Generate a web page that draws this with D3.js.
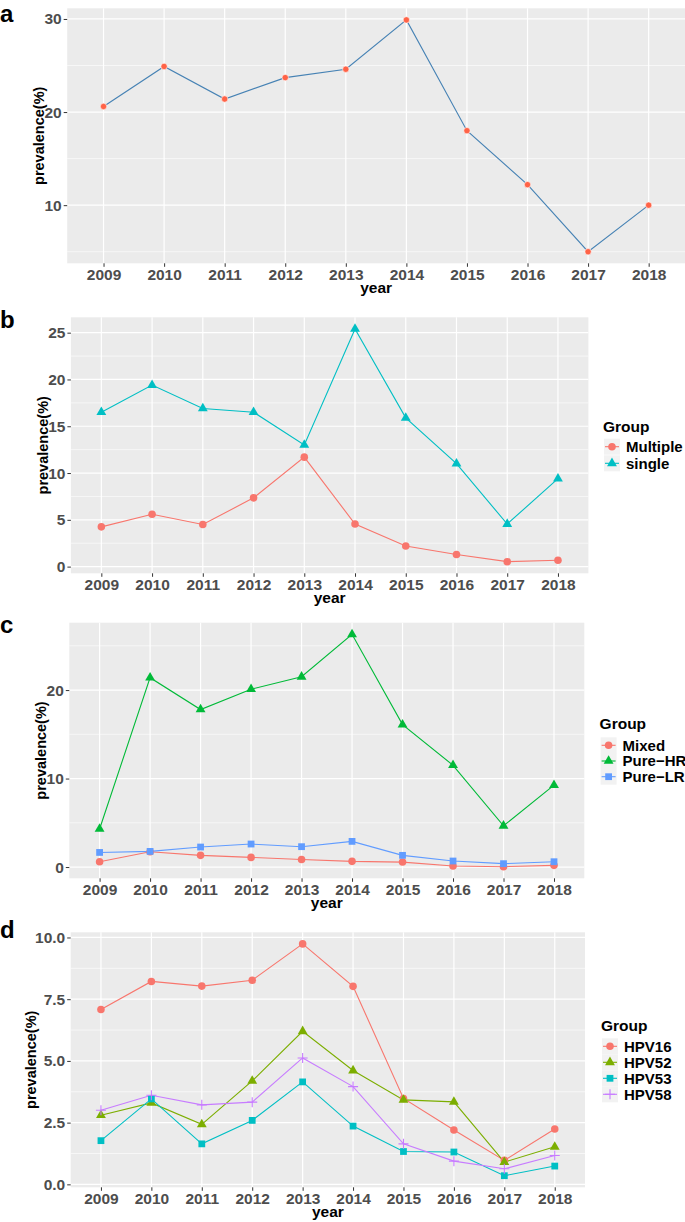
<!DOCTYPE html>
<html>
<head>
<meta charset="utf-8">
<script src="https://cdn.jsdelivr.net/npm/d3@7"></script>
<style>
  body { margin: 0; background: #fff; }
  svg text { font-family: "Liberation Sans", Arial, Helvetica, sans-serif; font-weight: bold; }
</style>
</head>
<body>
<script>
// data
const years = [2009, 2010, 2011, 2012, 2013, 2014, 2015, 2016, 2017, 2018];

const totalPrev = [20.6, 24.9, 21.4, 23.7, 24.6, 29.9, 18.0, 12.2, 5.0, 10.0];

const multiplePrev = [4.25, 5.6, 4.5, 7.35, 11.7, 4.55, 2.2, 1.3, 0.53, 0.68];
const singlePrev = [16.5, 19.4, 16.9, 16.5, 13.0, 25.4, 15.9, 11.0, 4.55, 9.4];

const mixedPrev = [0.6, 1.73, 1.32, 1.09, 0.86, 0.64, 0.56, 0.11, 0.04, 0.19];
const pureHRPrev = [4.3, 21.4, 17.8, 20.1, 21.5, 26.3, 16.1, 11.5, 4.66, 9.25];
const pureLRPrev = [1.65, 1.77, 2.26, 2.6, 2.3, 2.9, 1.32, 0.68, 0.38, 0.6];

const hpv16 = [7.08, 8.22, 8.03, 8.27, 9.74, 8.02, 3.48, 2.2, 0.97, 2.24];
const hpv52 = [2.8, 3.3, 2.43, 4.19, 6.2, 4.61, 3.42, 3.34, 0.9, 1.52];
const hpv53 = [1.77, 3.46, 1.64, 2.59, 4.15, 2.36, 1.33, 1.31, 0.35, 0.74];
const hpv58 = [3.0, 3.61, 3.22, 3.33, 5.12, 3.96, 1.64, 0.94, 0.63, 1.17];

const ticksA = [10, 20, 30];
const ticksB = [0, 5, 10, 15, 20, 25];
const ticksC = [0, 10, 20];
const ticksD = [0, 2.5, 5, 7.5, 10];

const W = 685, H = 1222;
const svg = d3.select("body").append("svg")
    .attr("width", W)
    .attr("height", H);

function plusPath(r) {
    return "M" + (-r) + ",0H" + r + "M0," + (-r) + "V" + r;
}

function drawPanel(opt) {
    const g = svg.append("g");
    const allVals = opt.series.flatMap(s => s.values);
    const lo = d3.min(allVals), hi = d3.max(allVals);
    const pad = (hi - lo) * 0.05;

    const x = d3.scalePoint().domain(years).range([opt.left, opt.right]).padding(0.6);
    const y = d3.scaleLinear().domain([lo - pad, hi + pad]).range([opt.bottom, opt.top]);

    // panel background
    g.append("rect")
        .attr("x", opt.left).attr("y", opt.top)
        .attr("width", opt.right - opt.left).attr("height", opt.bottom - opt.top)
        .attr("fill", "#EBEBEB");

    // minor grid (midpoints between major ticks)
    const step = opt.ticks[1] - opt.ticks[0];
    const minor = [];
    for (let v = opt.ticks[0] - step / 2; v <= hi + pad; v += step) {
        if (v >= lo - pad) minor.push(v);
    }
    g.selectAll(".minor").data(minor).enter().append("line")
        .attr("x1", opt.left).attr("x2", opt.right)
        .attr("y1", d => y(d)).attr("y2", d => y(d))
        .attr("stroke", "#fff").attr("stroke-width", 0.6);

    // major grid
    g.selectAll(".hmajor").data(opt.ticks).enter().append("line")
        .attr("x1", opt.left).attr("x2", opt.right)
        .attr("y1", d => y(d)).attr("y2", d => y(d))
        .attr("stroke", "#fff").attr("stroke-width", 1.2);
    g.selectAll(".vmajor").data(years).enter().append("line")
        .attr("x1", d => x(d)).attr("x2", d => x(d))
        .attr("y1", opt.top).attr("y2", opt.bottom)
        .attr("stroke", "#fff").attr("stroke-width", 1.2);

    // axes
    const yAxis = g.append("g")
        .attr("transform", "translate(" + opt.left + ",0)")
        .call(d3.axisLeft(y).tickValues(opt.ticks).tickSize(3.5).tickPadding(2)
            .tickFormat(opt.fmt || d3.format("d")));
    const xAxis = g.append("g")
        .attr("transform", "translate(0," + opt.bottom + ")")
        .call(d3.axisBottom(x).tickSize(3.5).tickPadding(2).tickFormat(d3.format("d")));
    [xAxis, yAxis].forEach(a => {
        a.select(".domain").remove();
        a.selectAll(".tick line").attr("stroke", "#333").attr("stroke-width", 1);
        a.selectAll(".tick text").attr("fill", "#4D4D4D").style("font-size", "15.5px");
    });

    // axis titles
    g.append("text")
        .attr("x", (opt.left + opt.right) / 2)
        .attr("y", opt.bottom + 30)
        .attr("text-anchor", "middle")
        .style("font-size", "15.5px")
        .text("year");
    g.append("text")
        .attr("transform", "translate(" + opt.yTitleX + "," + ((opt.top + opt.bottom) / 2) + ") rotate(-90)")
        .attr("text-anchor", "middle")
        .attr("dy", "0.35em")
        .style("font-size", "14.5px")
        .text("prevalence(%)");

    // panel letter
    g.append("text")
        .attr("x", 0).attr("y", opt.letterY)
        .style("font-size", "24px")
        .text(opt.letter);

    const line = d3.line().x((d, i) => x(years[i])).y(d => y(d));

    opt.series.forEach(s => {
        g.append("path")
            .datum(s.values)
            .attr("d", line)
            .attr("fill", "none")
            .attr("stroke", s.lineColor || s.color)
            .attr("stroke-width", 1.1);
    });
    opt.series.forEach(s => {
        drawMarks(g, s.values.map((v, i) => [x(years[i]), y(v)]), s);
    });

    // legend
    if (opt.legend) {
        const L = opt.legend;
        g.append("text")
            .attr("x", L.x).attr("y", L.titleY)
            .attr("dy", "0.35em")
            .style("font-size", "15.5px")
            .text("Group");
        opt.series.forEach((s, i) => {
            const cy = L.firstY + i * L.gap;
            g.append("rect")
                .attr("x", L.x + 1).attr("y", cy - 8)
                .attr("width", 16).attr("height", 16)
                .attr("fill", "#F2F2F2");
            g.append("line")
                .attr("x1", L.x + 2).attr("x2", L.x + 16)
                .attr("y1", cy).attr("y2", cy)
                .attr("stroke", s.color).attr("stroke-width", 1.1);
            drawMarks(g, [[L.x + 9, cy]], s);
            g.append("text")
                .attr("x", L.x + 23).attr("y", cy)
                .attr("dy", "0.36em")
                .style("font-size", "15px")
                .text(s.name);
        });
    }
}

function drawMarks(g, pts, s) {
    if (s.shape === "plus") {
        g.selectAll(null).data(pts).enter().append("path")
            .attr("transform", d => "translate(" + d[0] + "," + d[1] + ")")
            .attr("d", plusPath(s.r))
            .attr("stroke", s.color)
            .attr("stroke-width", 1.1)
            .attr("fill", "none");
    } else {
        g.selectAll(null).data(pts).enter().append("path")
            .attr("transform", d => "translate(" + d[0] + "," + d[1] + ")")
            .attr("d", d3.symbol().type(s.shape).size(s.size))
            .attr("fill", s.color)
            .attr("stroke", s.stroke || "none")
            .attr("stroke-width", s.stroke ? 0.6 : 0);
    }
}

// panel a
drawPanel({
    letter: "a", letterY: 22,
    left: 67.2, right: 685, top: 8.3, bottom: 263.3, yTitleX: 39,
    ticks: ticksA,
    series: [{ name: "all", values: totalPrev, color: "#FF6347", lineColor: "#4682B4",
               shape: d3.symbolCircle, size: 32, stroke: "#fff" }]
});

// panel b
drawPanel({
    letter: "b", letterY: 328,
    left: 70.9, right: 588.4, top: 317.3, bottom: 573.3, yTitleX: 42.5,
    ticks: ticksB,
    series: [
        { name: "Multiple", values: multiplePrev, color: "#F8766D", shape: d3.symbolCircle, size: 45 },
        { name: "single", values: singlePrev, color: "#00BFC4", shape: d3.symbolTriangle, size: 42 }
    ],
    legend: { x: 603, titleY: 427, firstY: 446.7, gap: 16.6 }
});

// panel c
drawPanel({
    letter: "c", letterY: 633,
    left: 69.3, right: 584.3, top: 622.7, bottom: 878.3, yTitleX: 41,
    ticks: ticksC,
    series: [
        { name: "Mixed", values: mixedPrev, color: "#F8766D", shape: d3.symbolCircle, size: 45 },
        { name: "Pure\u2212HR", values: pureHRPrev, color: "#00BA38", shape: d3.symbolTriangle, size: 42 },
        { name: "Pure\u2212LR", values: pureLRPrev, color: "#619CFF", shape: d3.symbolSquare, size: 46 }
    ],
    legend: { x: 599.6, titleY: 724, firstY: 745.3, gap: 15.7 }
});

// panel d
drawPanel({
    letter: "d", letterY: 938,
    left: 70.7, right: 585, top: 932.3, bottom: 1187.3, yTitleX: 31,
    ticks: ticksD, fmt: d3.format(".1f"),
    series: [
        { name: "HPV16", values: hpv16, color: "#F8766D", shape: d3.symbolCircle, size: 45 },
        { name: "HPV52", values: hpv52, color: "#7CAE00", shape: d3.symbolTriangle, size: 42 },
        { name: "HPV53", values: hpv53, color: "#00BFC4", shape: d3.symbolSquare, size: 46 },
        { name: "HPV58", values: hpv58, color: "#C77CFF", shape: "plus", r: 5 }
    ],
    legend: { x: 601, titleY: 1025.7, firstY: 1046.3, gap: 16 }
});
</script>
</body>
</html>
